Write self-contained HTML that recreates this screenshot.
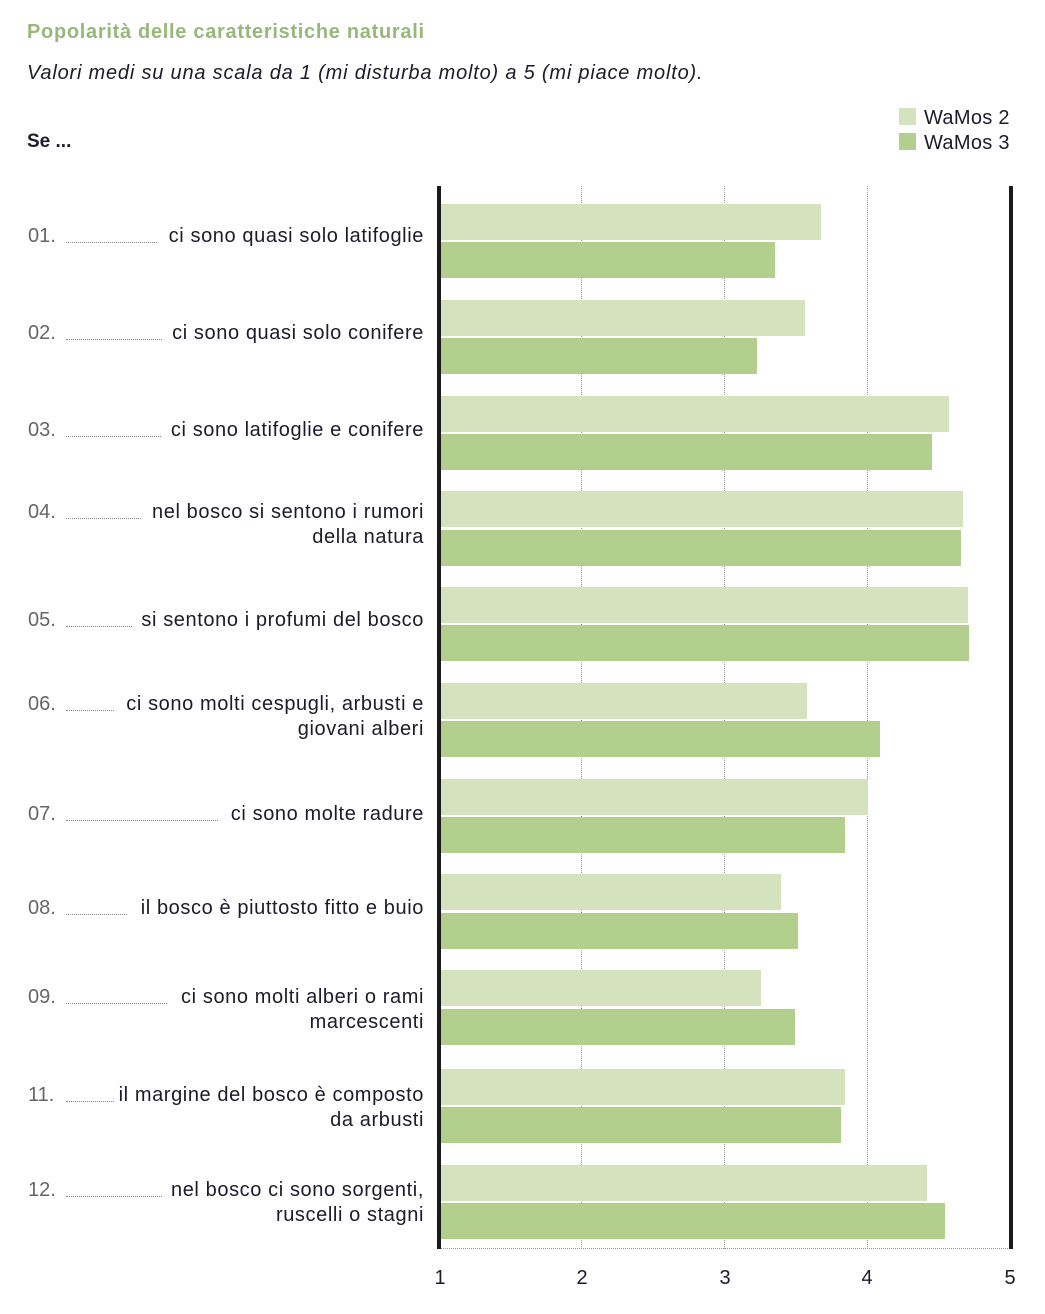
<!DOCTYPE html>
<html><head><meta charset="utf-8"><style>
*{margin:0;padding:0;box-sizing:border-box}
body{width:1045px;height:1314px;background:#fff;position:relative;font-family:"Liberation Sans",sans-serif;color:#1b1b2b;overflow:hidden}
.a{position:absolute;white-space:nowrap}
.bar{position:absolute;left:441px;height:36px}
.l{background:#d4e3be}.d{background:#b3cf8d}
.g{position:absolute;top:186px;height:1063px;border-left:1px dotted #999}
.num{position:absolute;left:28px;font-size:20px;color:#666;line-height:25px}
.dots{position:absolute;left:66px;border-bottom:1px dotted #888;height:0}
.lab{position:absolute;right:621px;font-size:20px;text-align:right;line-height:25px;white-space:nowrap;letter-spacing:0.6px}
.t{position:absolute;top:1267px;font-size:20px;width:30px;margin-left:-15px;text-align:center}
</style></head><body>
<div class="a" style="left:27px;top:21px;font-size:20px;font-weight:bold;color:#97b87a;letter-spacing:0.7px">Popolarità delle caratteristiche naturali</div>
<div class="a" style="left:27px;top:62px;font-size:20px;font-style:italic;letter-spacing:0.8px">Valori medi su una scala da 1 (mi disturba molto) a 5 (mi piace molto).</div>
<div class="a" style="left:27px;top:131px;font-size:19px;font-weight:bold">Se ...</div>
<div class="a" style="left:899px;top:108px;width:17px;height:17px;background:#d4e3be"></div>
<div class="a" style="left:899px;top:133px;width:17px;height:17px;background:#b3cf8d"></div>
<div class="a" style="left:924px;top:107px;font-size:20px;letter-spacing:0.3px">WaMos 2</div>
<div class="a" style="left:924px;top:132px;font-size:20px;letter-spacing:0.3px">WaMos 3</div>

<div class="g" style="left:581px"></div>
<div class="g" style="left:724px"></div>
<div class="g" style="left:867px"></div>
<div class="a" style="left:440px;top:1248px;width:572px;border-top:1px dotted #999"></div>
<div class="a" style="left:437px;top:186px;width:4px;height:1063px;background:#1a1a1a"></div>
<div class="a" style="left:1009px;top:186px;width:4px;height:1063px;background:#1a1a1a"></div>

<div class="bar l" style="top:204px;width:380px"></div><div class="bar d" style="top:242px;width:334px"></div>
<div class="bar l" style="top:300px;width:364px"></div><div class="bar d" style="top:338px;width:316px"></div>
<div class="bar l" style="top:396px;width:508px"></div><div class="bar d" style="top:434px;width:491px"></div>
<div class="bar l" style="top:491px;width:522px"></div><div class="bar d" style="top:530px;width:520px"></div>
<div class="bar l" style="top:587px;width:527px"></div><div class="bar d" style="top:625px;width:528px"></div>
<div class="bar l" style="top:683px;width:366px"></div><div class="bar d" style="top:721px;width:439px"></div>
<div class="bar l" style="top:779px;width:427px"></div><div class="bar d" style="top:817px;width:404px"></div>
<div class="bar l" style="top:874px;width:340px"></div><div class="bar d" style="top:913px;width:357px"></div>
<div class="bar l" style="top:970px;width:320px"></div><div class="bar d" style="top:1009px;width:354px"></div>
<div class="bar l" style="top:1069px;width:404px"></div><div class="bar d" style="top:1107px;width:400px"></div>
<div class="bar l" style="top:1165px;width:486px"></div><div class="bar d" style="top:1203px;width:504px"></div>

<div class="num" style="top:224px">01.</div><div class="dots" style="top:242px;width:91px"></div><div class="lab" style="top:224px">ci sono quasi solo latifoglie</div>
<div class="num" style="top:321px">02.</div><div class="dots" style="top:339px;width:96px"></div><div class="lab" style="top:321px">ci sono quasi solo conifere</div>
<div class="num" style="top:418px">03.</div><div class="dots" style="top:436px;width:95px"></div><div class="lab" style="top:418px">ci sono latifoglie e conifere</div>
<div class="num" style="top:500px">04.</div><div class="dots" style="top:518px;width:75px"></div><div class="lab" style="top:500px">nel bosco si sentono i rumori<br>della natura</div>
<div class="num" style="top:608px">05.</div><div class="dots" style="top:626px;width:66px"></div><div class="lab" style="top:608px">si sentono i profumi del bosco</div>
<div class="num" style="top:692px">06.</div><div class="dots" style="top:710px;width:48px"></div><div class="lab" style="top:692px">ci sono molti cespugli, arbusti e<br>giovani alberi</div>
<div class="num" style="top:802px">07.</div><div class="dots" style="top:820px;width:152px"></div><div class="lab" style="top:802px">ci sono molte radure</div>
<div class="num" style="top:896px">08.</div><div class="dots" style="top:914px;width:61px"></div><div class="lab" style="top:896px">il bosco è piuttosto fitto e buio</div>
<div class="num" style="top:985px">09.</div><div class="dots" style="top:1003px;width:101px"></div><div class="lab" style="top:985px">ci sono molti alberi o rami<br>marcescenti</div>
<div class="num" style="top:1083px">11.</div><div class="dots" style="top:1101px;width:48px"></div><div class="lab" style="top:1083px">il margine del bosco è composto<br>da arbusti</div>
<div class="num" style="top:1178px">12.</div><div class="dots" style="top:1196px;width:96px"></div><div class="lab" style="top:1178px">nel bosco ci sono sorgenti,<br>ruscelli o stagni</div>

<div class="t" style="left:440px">1</div>
<div class="t" style="left:582px">2</div>
<div class="t" style="left:725px">3</div>
<div class="t" style="left:867px">4</div>
<div class="t" style="left:1010px">5</div>
</body></html>
